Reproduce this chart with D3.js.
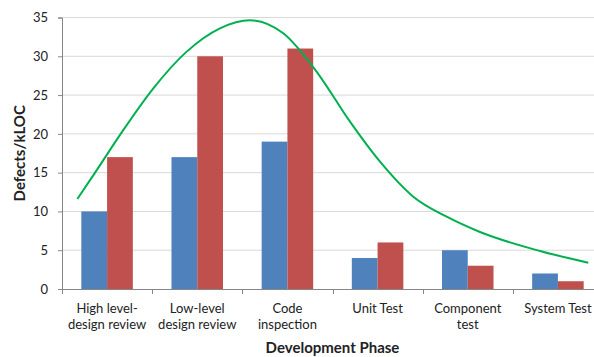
<!DOCTYPE html>
<html><head><meta charset="utf-8">
<script src="https://cdn.jsdelivr.net/npm/d3@7"></script>
<style>
html,body{margin:0;padding:0;background:#fff;overflow:hidden}
svg{display:block}
text{font-family:Lato,"Open Sans",sans-serif;fill:#222}
</style></head><body>
<svg id="c" width="594" height="357"></svg>
<script>
const categories = [["High level-","design review"],["Low-level","design review"],["Code","inspection"],["Unit Test"],["Component","test"],["System Test"]];
const seriesA = [10, 17, 19, 4, 5, 2];
const seriesB = [17, 30, 31, 6, 3, 1];
const curveX = [-0.330,-0.133,0.151,0.513,0.883,1.252,1.585,1.954,2.325,2.694,3.027,3.396,3.766,4.136,4.801,5.337];
const curveY = [11.6,15,20,25.87,30.6,33.6,34.64,32.96,28.0,21.57,16.41,11.9,9.32,7.35,4.9,3.39];
const yTicks = [0,5,10,15,20,25,30,35];

(function(){
const svg = d3.select("#c");
const L = 62, R = 603, T = 17.5, B = 289;
const y = d3.scaleLinear().domain([0,35]).range([B, T]);
const x = d3.scaleBand().domain(d3.range(categories.length)).range([L, R]);
const bw = x.bandwidth();
const barW = bw/3.5;
const xc = d3.scaleLinear().domain([-0.5, categories.length-0.5]).range([L, R]);

svg.append("g").selectAll("line").data(yTicks.filter(d=>d>0)).join("line")
  .attr("x1", L).attr("x2", R)
  .attr("y1", d=>y(d)).attr("y2", d=>y(d))
  .attr("stroke", "#d9d9d9").attr("stroke-width", 1);

const g = svg.append("g");
categories.forEach((c,i)=>{
  const cx = x(i) + bw/2;
  g.append("rect").attr("x", cx-barW).attr("width", barW)
    .attr("y", y(seriesA[i])).attr("height", y(0)-y(seriesA[i])).attr("fill", "#4f81bd");
  g.append("rect").attr("x", cx).attr("width", barW)
    .attr("y", y(seriesB[i])).attr("height", y(0)-y(seriesB[i])).attr("fill", "#c0504d");
});

const yAxis = svg.append("g").attr("transform", `translate(${L},0)`)
  .call(d3.axisLeft(y).tickValues(yTicks).tickSize(4).tickPadding(10));
yAxis.select(".domain").attr("stroke", "#868686");
yAxis.selectAll(".tick line").attr("stroke", "#868686");
yAxis.selectAll("text").style("font-size","13px").attr("fill","#222");

const xAxisG = svg.append("g");
xAxisG.append("line").attr("x1", L).attr("x2", R).attr("y1", B+0.5).attr("y2", B+0.5).attr("stroke","#868686");
d3.range(categories.length+1).forEach(i=>{
  const px = i<categories.length ? x(i) : R;
  xAxisG.append("line").attr("x1", Math.round(px)+0.5).attr("x2", Math.round(px)+0.5)
    .attr("y1", B).attr("y2", B+5).attr("stroke","#868686");
});
categories.forEach((c,i)=>{
  const t = xAxisG.append("text").attr("text-anchor","middle").style("font-size","13px")
    .attr("x", x(i)+bw/2).attr("y", 313);
  c.forEach((ln,j)=>{
    t.append("tspan").attr("x", x(i)+bw/2).attr("dy", j===0?0:16).text(ln);
  });
});

const line = d3.line().x((d,i)=>xc(curveX[i])).y(d=>y(d)).curve(d3.curveMonotoneX);
svg.append("path").datum(curveY).attr("d", line)
  .attr("fill","none").attr("stroke","#00b050").attr("stroke-width",2);

svg.append("text").attr("text-anchor","middle").style("font-size","15px").style("font-weight","bold")
  .attr("transform", `translate(25,${(T+B)/2}) rotate(-90)`).text("Defects/kLOC");
svg.append("text").attr("text-anchor","middle").style("font-size","15px").style("font-weight","bold")
  .attr("x", (L+R)/2).attr("y", 353).text("Development Phase");
})();
</script>
</body></html>
